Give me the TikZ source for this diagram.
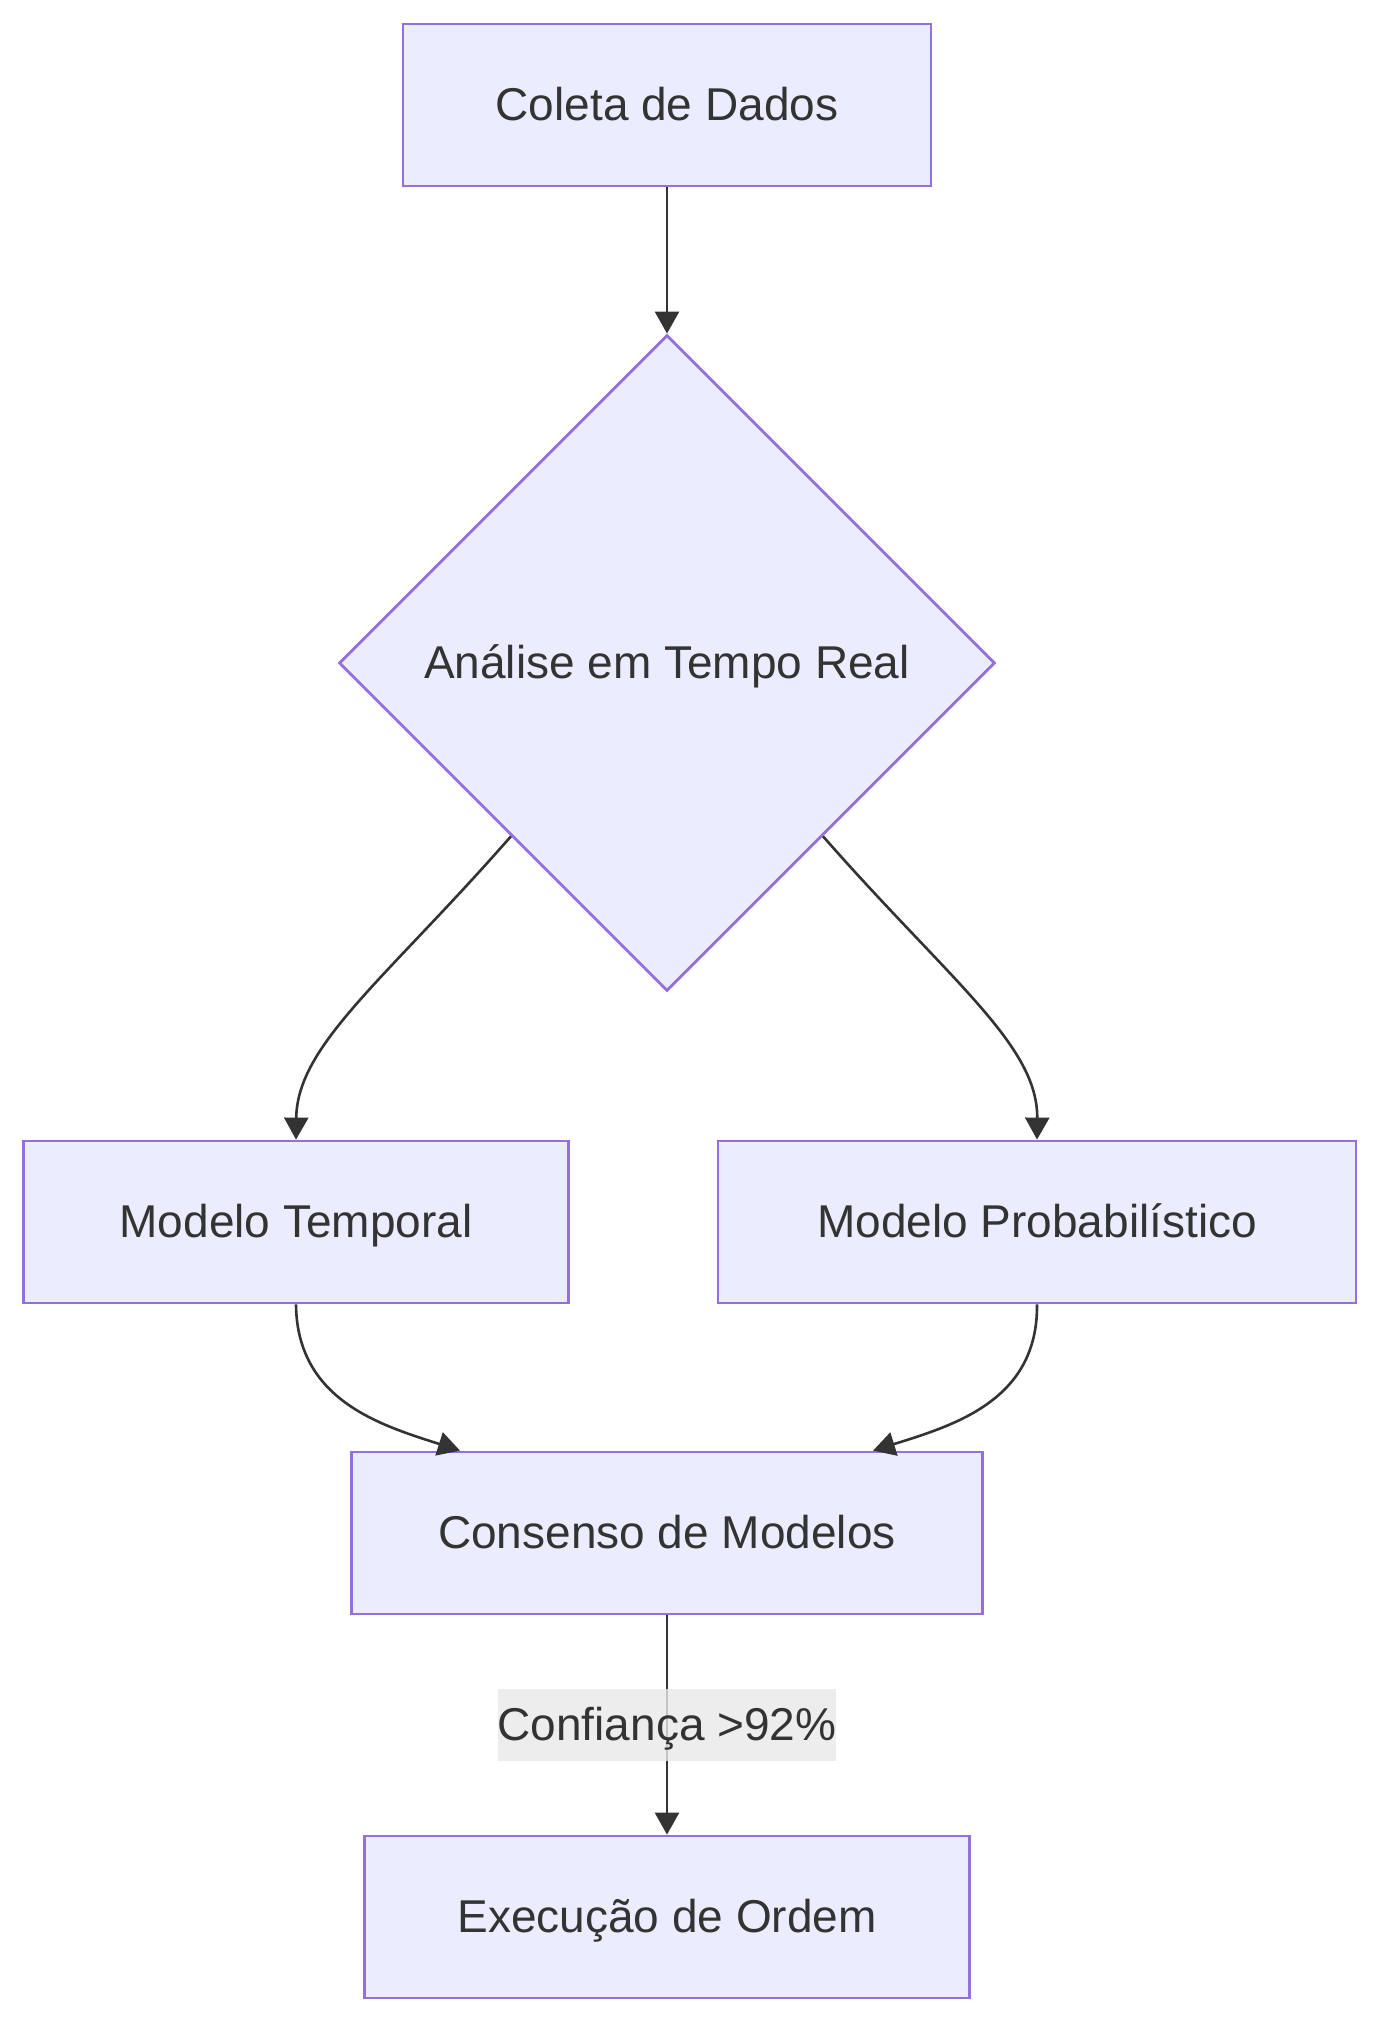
\documentclass[tikz,border=0pt]{standalone}
\usepackage{fontspec}
\setmainfont{Liberation Sans}
\usetikzlibrary{shapes.geometric,arrows.meta}
\definecolor{nofundo}{HTML}{ECECFF}
\definecolor{noborda}{HTML}{9370DB}
\definecolor{texto}{HTML}{333333}
\definecolor{rotulofundo}{HTML}{E8E8E8}

\begin{document}
\begin{tikzpicture}[x=0.5pt, y=-0.5pt,
		fonte/.style={text=texto, font=\fontsize{23}{28}\selectfont, text height=21pt, text depth=5.5pt},
		caixa/.style={fonte, rectangle, draw=noborda, fill=nofundo, line width=1.4pt, minimum height=81pt},
		decisao/.style={fonte, diamond, aspect=1, draw=noborda, fill=nofundo, line width=1.4pt, minimum width=328pt, minimum height=328pt, inner sep=0pt},
		seta/.style={draw=texto, line width=1.3pt, -{Triangle[length=11pt, width=12pt]}},
		rotulo/.style={fonte, fill=rotulofundo, fill opacity=0.8, text opacity=1, minimum width=165pt, minimum height=36pt, inner sep=0pt}]
							% 固定画布大小
							\useasboundingbox (0,0) rectangle (1380,2023);
							
							% 绘制节点
							\node[caixa, minimum width=264pt] (coleta) at (667,105) {Coleta de Dados};
							\node[decisao] (analise) at (667,663) {Análise em Tempo Real};
							\node[caixa, minimum width=272.5pt] (temporal) at (296,1222) {Modelo Temporal};
							\node[caixa, minimum width=319pt] (probab) at (1037,1222) {Modelo Probabilístico};
							\node[caixa, minimum width=315.5pt] (consenso) at (667,1533) {Consenso de Modelos};
							\node[caixa, minimum width=302.5pt] (execucao) at (667,1917) {Execução de Ordem};
							
							% 绘制连线
							\draw[seta] (coleta) -- (analise);
							\draw[seta] (analise.228) .. controls (385,980) and (297,1045) .. (temporal.north);
							\draw[seta] (analise.-48) .. controls (949,980) and (1038,1045) .. (probab.north);
							\draw[seta] (temporal.south) .. controls (297,1400) and (380,1425) .. ([xshift=-103.5pt]consenso.north);
							\draw[seta] (probab.south) .. controls (1038,1400) and (955,1425) .. ([xshift=103pt]consenso.north);
							\draw[seta] (consenso) -- node[rotulo] {Confiança >92\%} (execucao);
						\end{tikzpicture}
\end{document}
